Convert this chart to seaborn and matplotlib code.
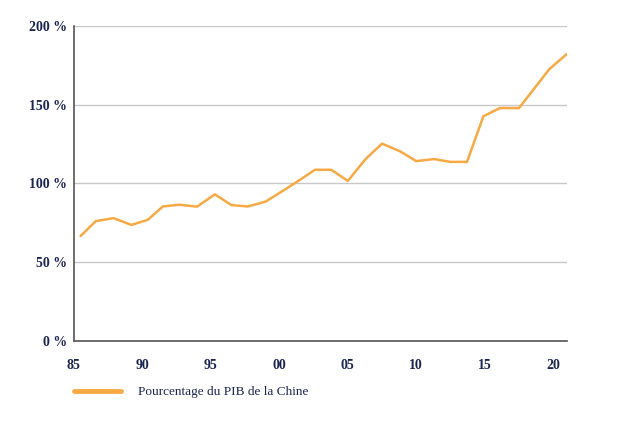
import matplotlib
matplotlib.use("Agg")
import matplotlib.pyplot as plt
import seaborn as sns
import pandas as pd

# Data
years = [1985.5, 1986.6, 1987.9, 1989.2, 1990.4, 1991.5, 1992.7, 1994.0, 1995.3,
         1996.5, 1997.7, 1999.0, 2000.2, 2001.4, 2002.6, 2003.8, 2005.0, 2006.3,
         2007.5, 2008.8, 2010.0, 2011.3, 2012.5, 2013.7, 2014.9, 2016.1, 2017.5,
         2018.7, 2019.7, 2021.0]
pct_gdp = [66.7, 76.1, 78.0, 73.7, 76.9, 85.4, 86.5, 85.3, 93.1,
           86.3, 85.4, 88.5, 95.0, 101.7, 108.7, 108.7, 101.6, 115.5,
           125.3, 120.5, 114.2, 115.5, 113.7, 113.7, 142.7, 147.9, 147.9,
           161.3, 172.5, 182.3]
series_name = "Pourcentage du PIB de la Chine"
x_ticks = [1985, 1990, 1995, 2000, 2005, 2010, 2015, 2020]
x_tick_labels = ["85", "90", "95", "00", "05", "10", "15", "20"]
y_ticks = [0, 50, 100, 150, 200]
y_tick_labels = ["0 %", "50 %", "100 %", "150 %", "200 %"]

df = pd.DataFrame({"annee": years, "valeur": pct_gdp, "serie": series_name})

sns.set_style("white")
plt.rcParams["font.family"] = ["Liberation Serif", "DejaVu Serif"]

navy = "#1c2452"
orange = "#F6A945"

fig = plt.figure(figsize=(6.2, 4.22), dpi=100)
ax = fig.add_axes([0.119, 0.192, 0.7955, 0.7464])

sns.lineplot(data=df, x="annee", y="valeur", hue="serie", palette=[orange],
             linewidth=1.8, ax=ax, legend=True)

ax.set_xlim(1985, 2021)
ax.set_ylim(0, 200)
ax.set_xticks(x_ticks)
ax.set_xticklabels(x_tick_labels)
ax.set_yticks(y_ticks)
ax.set_yticklabels(y_tick_labels)
ax.set_xlabel("")
ax.set_ylabel("")

for t in ax.get_xticklabels() + ax.get_yticklabels():
    t.set_fontweight("bold")
    t.set_color(navy)
    t.set_fontsize(10)
ax.tick_params(axis="x", length=0, pad=13)
ax.tick_params(axis="y", length=0, pad=5)

ax.grid(axis="y", color="#c8c8c8", linewidth=1.0)
ax.grid(axis="x", visible=False)
ax.set_axisbelow(True)

for s in ["top", "right"]:
    ax.spines[s].set_visible(False)
for s in ["left", "bottom"]:
    ax.spines[s].set_color("#555555")
    ax.spines[s].set_linewidth(1.2)
    ax.spines[s].set_zorder(3)

leg = ax.legend(loc="center left", bbox_to_anchor=(0.0, -0.162),
                frameon=False, borderaxespad=0, borderpad=0,
                handlelength=3.6, handletextpad=1.3, fontsize=9.5)
for h in leg.get_lines():
    h.set_linewidth(3.5)
for t in leg.get_texts():
    t.set_color(navy)

fig.savefig("out.png", dpi=100)
